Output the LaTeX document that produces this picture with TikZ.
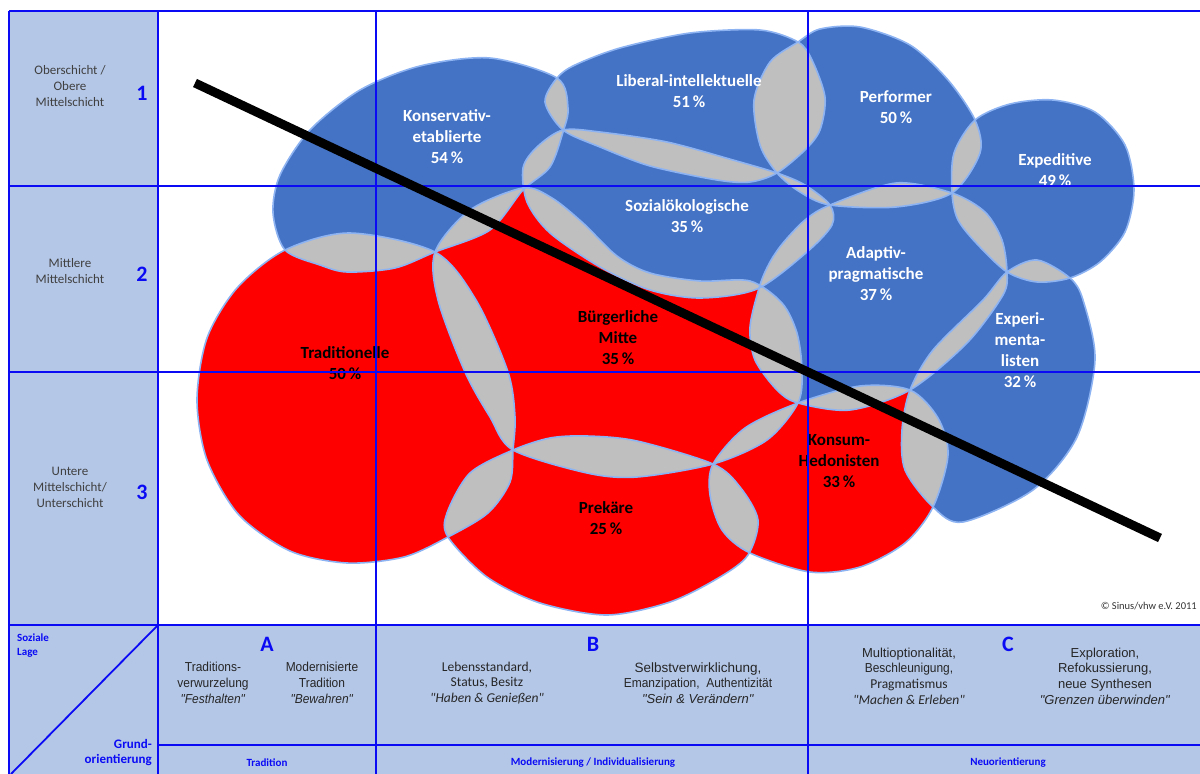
\documentclass[tikz,border=0pt]{standalone}
\usepackage{fontspec}
\setmainfont{Carlito}
\newfontfamily\calibri{Carlito}
\newfontfamily\arialfont{Liberation Sans}
\newfontfamily\narrowfont[FakeStretch=0.92]{Liberation Sans}
\usetikzlibrary{calc}
\definecolor{milieublue}{HTML}{4472C4}
\definecolor{milieured}{HTML}{FF0000}
\definecolor{overlapgray}{HTML}{BFBFBF}
\definecolor{rimblue}{HTML}{8DB3F2}
\definecolor{headblue}{HTML}{B4C7E7}
\definecolor{gridblue}{HTML}{0A0AF5}
\definecolor{labelgray}{HTML}{404040}

\begin{document}
\begin{tikzpicture}[%
x=1pt, y=-1pt,
kopf/.style={fill=headblue},
gitter/.style={draw=gridblue, line width=1.8pt},
rand/.style={draw=rimblue, line width=1.6pt},
trend/.style={line width=9pt, black},
hell/.style={text=white, font=\bfseries\fontsize{17}{21}\selectfont, align=center, inner sep=0},
dunkel/.style={text=black, font=\bfseries\fontsize{17}{21}\selectfont, align=center, inner sep=0},
schicht/.style={text=labelgray, font=\fontsize{13}{16}\selectfont, align=center, inner sep=0},
nummer/.style={text=gridblue, font=\bfseries\fontsize{22}{24}\selectfont, inner sep=0},
achse/.style={text=gridblue, font=\bfseries\fontsize{11}{14}\selectfont, inner sep=0},
wert/.style={text=black!85, align=center, inner sep=0},
]

\useasboundingbox (0,0) rectangle (1200,774);

% Kopfzellen
\fill[kopf] (9,11) rectangle (158,774);
\fill[kopf] (9,625) rectangle (1200,774);

% Milieus
\def\blobK{plot[smooth cycle] coordinates {(285,250) (320,265) (347,272) (395,268) (435,252) (490,230) (523,190) (550,167) (563,132) (568,108) (557,78) (490,58) (420,66) (360,90) (310,130) (280,175) (273,213)}}
\def\blobL{plot[smooth cycle] coordinates {(557,78) (545,102) (563,130) (600,147) (650,166) (717,180) (750,182) (777,173) (805,150) (820,130) (825,97) (812,60) (798,42) (760,30) (690,33) (620,48) (575,65)}}
\def\blobP{plot[smooth cycle] coordinates {(798,42) (820,29) (860,27) (910,45) (948,80) (975,120) (980,153) (952,193) (896,207) (830,205) (800,192) (777,173) (760,145) (754,100) (770,62)}}
\def\blobE{plot[smooth cycle] coordinates {(975,120) (1010,104) (1053,100) (1095,112) (1125,145) (1134,190) (1125,232) (1100,262) (1070,278) (1037,282) (1007,272) (978,245) (958,220) (952,193) (954,153)}}
\def\blobS{plot[smooth cycle] coordinates {(523,168) (537,147) (563,130) (600,132) (667,142) (733,160) (777,173) (805,185) (830,205) (832,225) (807,252) (757,289) (700,298) (650,290) (600,267) (550,233) (527,202)}}
\def\blobA{plot[smooth cycle] coordinates {(830,205) (896,183) (952,193) (985,212) (1002,240) (1007,272) (1003,295) (967,343) (910,390) (850,410) (798,403) (777,390) (755,360) (750,327) (760,285) (770,262) (783,243) (805,220)}}
\def\blobX{plot[smooth cycle] coordinates {(1007,272) (1037,260) (1070,278) (1083,300) (1095,360) (1077,437) (1033,490) (963,522) (933,507) (905,470) (902,430) (910,390) (933,350) (983,300)}}
\def\blobT{plot[smooth cycle] coordinates {(285,250) (350,233) (435,252) (476,300) (508,372) (515,417) (513,450) (510,482) (488,513) (448,537) (404,557) (347,563) (290,551) (239,515) (207,460) (197,400) (207,338) (237,288)}}
\def\blobB{plot[smooth cycle] coordinates {(435,252) (470,210) (523,188) (552,198) (583,223) (617,256) (650,273) (700,281) (750,281) (782,303) (797,333) (802,370) (798,403) (767,440) (713,464) (637,477) (587,473) (513,450) (490,417) (465,372) (438,300)}}
\def\blobR{plot[smooth cycle] coordinates {(513,450) (550,438) (587,436) (637,441) (713,464) (740,487) (758,520) (748,555) (720,577) (670,602) (607,615) (540,603) (487,577) (448,537) (447,513) (470,473)}}
\def\blobH{plot[smooth cycle] coordinates {(713,464) (745,428) (798,403) (860,386) (910,390) (938,418) (948,455) (933,507) (905,543) (860,567) (810,572) (750,553) (722,530) (710,495)}}

\foreach \m/\farbe in {K/milieublue, L/milieublue, P/milieublue, E/milieublue, S/milieublue, A/milieublue, X/milieublue, T/milieured, B/milieured, R/milieured, H/milieured}{
  \expandafter\let\expandafter\curblob\csname blob\m\endcsname
  \fill[\farbe] \curblob;
}

% Ueberlappungen
\foreach \a/\b in {K/T, K/B, K/S, K/L, L/S, L/P, P/S, P/A, P/E, E/A, E/X, S/A, S/B, B/T, B/A, B/H, B/R, T/R, R/H, H/A, H/X, A/X}{
  \expandafter\let\expandafter\clipblob\csname blob\a\endcsname
  \expandafter\let\expandafter\fillblob\csname blob\b\endcsname
  \begin{scope}
    \clip \clipblob;
    \fill[overlapgray] \fillblob;
  \end{scope}
}

\foreach \m in {K, L, P, E, S, A, X, T, B, R, H}{
  \expandafter\let\expandafter\curblob\csname blob\m\endcsname
  \draw[rand] \curblob;
}

% Beschriftung Milieus
\node[hell] (konservativ) at (447,137) {Konservativ-\\etablierte\\54\,\%};
\node[hell] (liberal) at (689,91) {Liberal-intellektuelle\\51\,\%};
\node[hell] (performer) at (896,107) {Performer\\50\,\%};
\node[hell] (expeditive) at (1055,170) {Expeditive\\49\,\%};
\node[hell] (sozial) at (687,216) {Sozialökologische\\35\,\%};
\node[hell] (adaptiv) at (876,274) {Adaptiv-\\pragmatische\\37\,\%};
\node[hell] (experi) at (1020,350) {Experi-\\menta-\\listen\\32\,\%};
\node[dunkel] (traditionelle) at (345,363) {Traditionelle\\50\,\%};
\node[dunkel] (buerger) at (618,338) {Bürgerliche\\Mitte\\35\,\%};
\node[dunkel] (prekaere) at (606,518) {Prekäre\\25\,\%};
\node[dunkel] (konsum) at (839,461) {Konsum-\\Hedonisten\\33\,\%};

% Gitter
\draw[gitter] (9,11) -- (1200,11);
\draw[gitter] (9,186) -- (1200,186);
\draw[gitter] (9,372) -- (1200,372);
\draw[gitter] (9,625) -- (1200,625);
\draw[gitter] (158,745) -- (1200,745);
\draw[gitter] (9,11) -- (9,774);
\draw[gitter] (158,11) -- (158,774);
\draw[gitter] (376,11) -- (376,774);
\draw[gitter] (808,11) -- (808,774);
\draw[gitter] (158,625) -- (11,774);

% Soziale Lage
\node[schicht] (ober) at (70,86) {Oberschicht /\\Obere\\Mittelschicht};
\node[schicht] (mittel) at (70,271) {Mittlere\\Mittelschicht};
\node[schicht] (unter) at (70,487) {Untere\\Mittelschicht/\\Unterschicht};
\node[nummer] (n1) at (142,93) {1};
\node[nummer] (n2) at (142,274) {2};
\node[nummer] (n3) at (142,492) {3};

% Grundorientierung
\node[achse, align=left, anchor=north west] (lage) at (17,634) {Soziale\\Lage};
\node[achse, align=right, anchor=north east, font=\bfseries\fontsize{13}{15}\selectfont] (grund) at (152,739) {Grund-\\orientierung};
\node[nummer] (ga) at (267,644) {A};
\node[nummer] (gb) at (593,644) {B};
\node[nummer] (gc) at (1008,644) {C};
\node[achse] (tradition) at (267,763) {Tradition};
\node[achse] (modern) at (593,763) {Modernisierung / Individualisierung};
\node[achse] (neu) at (1008,763) {Neuorientierung};

\node[wert, font=\narrowfont\fontsize{13}{15.7}\selectfont] (a1) at (213,683) {Traditions-\\verwurzelung\\\textit{"Festhalten"}};
\node[wert, font=\narrowfont\fontsize{13}{15.7}\selectfont] (a2) at (322,683) {Modernisierte\\Tradition\\\textit{"Bewahren"}};
\node[wert, font=\calibri\fontsize{13.5}{15.7}\selectfont] (b1) at (487,683) {Lebensstandard,\\Status, Besitz\\\textit{"Haben \& Genießen"}};
\node[wert, font=\arialfont\fontsize{13}{15.7}\selectfont] (b2) at (698,683) {{\fontsize{13.5}{15.7}\selectfont Selbstverwirklichung,}\\{\narrowfont Emanzipation,\ \ Authentizität}\\\textit{"Sein \& Verändern"}};
\node[wert, font=\arialfont\fontsize{13}{15.7}\selectfont] (c1) at (909,676) {Multioptionalität,\\{\narrowfont Beschleunigung,}\\{\calibri\fontsize{13.5}{15.7}\selectfont Pragmatismus}\\{\calibri\itshape\fontsize{13.5}{15.7}\selectfont "Machen \& Erleben"}};
\node[wert, font=\arialfont\fontsize{13}{15.7}\selectfont] (c2) at (1105,676) {Exploration,\\Refokussierung,\\neue Synthesen\\\textit{"Grenzen überwinden"}};

\node[text=black!80, font=\fontsize{10.5}{12}\selectfont, anchor=east, inner sep=0] (quelle) at (1197,606) {© Sinus/vhw e.V. 2011};

% Trendlinie
\coordinate (trendstart) at (195,83);
\coordinate (trendend) at (1160,538);
\draw[trend] (trendstart) -- (trendend);

\end{tikzpicture}
\end{document}
